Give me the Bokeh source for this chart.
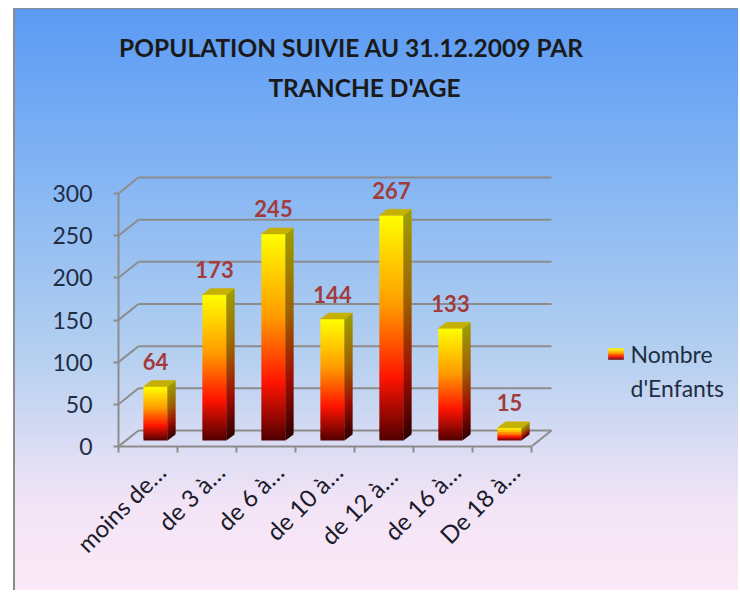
import math
from bokeh.plotting import figure
from bokeh.models import Range1d, FixedTicker, ColumnDataSource
from bokeh.core.properties import value
from bokeh.embed import file_html
from bokeh.resources import INLINE

# ---------------- data ----------------
categories = ["moins de…", "de 3 à…", "de 6 à…", "de 10 à…", "de 12  à…", "de 16 à…", "De 18 à…"]
nombre_enfants = [64, 173, 245, 144, 267, 133, 15]
y_ticks = [0, 50, 100, 150, 200, 250, 300]
series_name = ["Nombre", "d'Enfants"]
title_lines = ["POPULATION SUIVIE AU 31.12.2009 PAR", "TRANCHE D'AGE"]

# ---------------- layout constants (pixels) ----------------
W, H = 725, 582
ORIGIN_X, ORIGIN_Y = 13, 8          # page position of the canvas
AX_X, AX_Y = 118, 446               # page position of data origin (front floor corner)
XS = 59.0                           # px per category
YS = 253.0 / 300.0                  # px per value unit

FRAME_LEFT = AX_X - ORIGIN_X
FRAME_BOTTOM = AX_Y - ORIGIN_Y


def dx(p):
    return p / XS


def dy(p):
    return p / YS


def px(xpage):
    return (xpage - AX_X) / XS


def py(ypage):
    return (AX_Y - ypage) / YS


WALL_DX, WALL_DY = dx(20), dy(16)    # depth of the 3D box
BAR_DX, BAR_DY = dx(7.5), dy(6)      # position of bar front face in depth
BAR_HALF = dx(12)
SIDE_DX, SIDE_DY = dx(8), dy(6)

FONT = value("Lato")
GRID_COLOR = "#8c8c8c"

FRONT_STOPS = [(0.0, (80, 0, 0)), (0.28, (255, 20, 0)), (0.6, (255, 155, 0)), (1.0, (255, 255, 0))]


def grad(t, stops=FRONT_STOPS, k=1.0):
    for (t0, c0), (t1, c1) in zip(stops[:-1], stops[1:]):
        if t <= t1:
            f = (t - t0) / (t1 - t0) if t1 > t0 else 0
            c = [c0[i] + (c1[i] - c0[i]) * f for i in range(3)]
            break
    else:
        c = list(stops[-1][1])
    c = [max(0, min(255, int(round(v * k)))) for v in c]
    return "#%02x%02x%02x" % tuple(c)


n_cat = len(categories)
p = figure(width=W, height=H,
           x_range=Range1d(0, (W - FRAME_LEFT) / XS),
           y_range=Range1d(0, FRAME_BOTTOM / YS),
           output_backend="svg", toolbar_location=None,
           min_border_left=FRAME_LEFT, min_border_right=0,
           min_border_top=0, min_border_bottom=H - FRAME_BOTTOM)

p.background_fill_color = None
p.border_fill_color = None
p.outline_line_color = None
p.xgrid.visible = False
p.ygrid.visible = False
p.styles = {
    "margin-left": "%dpx" % ORIGIN_X,
    "margin-top": "%dpx" % ORIGIN_Y,
    "background": "linear-gradient(to bottom, #5a9af4 0%, #86b6f3 30%, #b5d0f0 60%, #f2e4f6 85%, #fce8f6 100%)",
    "box-shadow": "inset 2px 1px 0 0 #8c8c8c",
}

# ---------------- back wall grid ----------------
gx0, gy0, gx1, gy1 = [], [], [], []
for v in y_ticks:
    gx0 += [0, WALL_DX]
    gy0 += [v, v + WALL_DY]
    gx1 += [WALL_DX, n_cat + WALL_DX]
    gy1 += [v + WALL_DY, v + WALL_DY]
gx0.append(n_cat); gy0.append(0); gx1.append(n_cat + WALL_DX); gy1.append(WALL_DY)
p.segment(x0=gx0, y0=gy0, x1=gx1, y1=gy1, line_color=GRID_COLOR, line_width=2)

# ---------------- 3D bars with gradient ----------------
OVER = dy(1.2)
fl, fr, fb, ft, fc = [], [], [], [], []
sxs, sys, sc = [], [], []
txs, tys = [], []
for i, v in enumerate(nombre_enfants):
    xl = i + 0.5 + BAR_DX - BAR_HALF
    xr = i + 0.5 + BAR_DX + BAR_HALF
    base = BAR_DY
    N = max(4, int(v * YS / 2))
    for k in range(N):
        y0 = base + v * k / N
        y1 = base + v * (k + 1) / N
        y1o = min(y1 + OVER, base + v)
        t = (k + 0.5) / N
        fl.append(xl); fr.append(xr); fb.append(y0); ft.append(y1o); fc.append(grad(t))
        sxs.append([xr, xr + SIDE_DX, xr + SIDE_DX, xr])
        sys.append([y0, y0 + SIDE_DY, y1o + SIDE_DY, y1o])
        sc.append(grad(t, k=0.62))
    top = base + v
    txs.append([xl, xr, xr + SIDE_DX, xl + SIDE_DX])
    tys.append([top, top, top + SIDE_DY, top + SIDE_DY])

p.quad(left=fl, right=fr, bottom=fb, top=ft, fill_color=fc, line_color=None)
p.patches(xs=sxs, ys=sys, fill_color=sc, line_color=None)
p.patches(xs=txs, ys=tys, fill_color="#c6b000", line_color="#c6b000", line_width=0.5)

# value labels
lab = ColumnDataSource(dict(
    x=[i + 0.5 + BAR_DX for i in range(n_cat)],
    y=[BAR_DY + v for v in nombre_enfants],
    t=[str(v) for v in nombre_enfants]))
p.text(x="x", y="y", text="t", source=lab, text_font=FONT, text_font_style="bold",
       text_font_size="22px", text_color="#a23c3c", text_align="center",
       text_baseline="middle", y_offset=-25)

# ---------------- title ----------------
p.text(x=[px(351), px(364)], y=[py(47), py(87)], text=title_lines, text_font=FONT,
       text_font_style="bold", text_font_size="24.5px", text_color="#1a1a1a",
       text_align="center", text_baseline="middle")

# ---------------- legend ----------------
LN = 10
lg_l, lg_r, lg_t, lg_b = px(608), px(623), py(348), py(359)
p.quad(left=[lg_l] * LN, right=[lg_r] * LN,
       bottom=[lg_b + (lg_t - lg_b) * k / LN for k in range(LN)],
       top=[lg_b + (lg_t - lg_b) * (k + 1) / LN for k in range(LN)],
       fill_color=[grad((k + 0.5) / LN) for k in range(LN)],
       line_color=[grad((k + 0.5) / LN) for k in range(LN)], line_width=0.5)
p.text(x=[px(630), px(630)], y=[py(353), py(387)], text=series_name, text_font=FONT,
       text_font_size="23px", text_color="#1f2d45", text_align="left", text_baseline="middle")

# ---------------- axes ----------------
yax = p.yaxis[0]
yax.ticker = FixedTicker(ticks=y_ticks)
yax.bounds = (0, 300)
yax.axis_line_color = GRID_COLOR
yax.axis_line_width = 2
yax.major_tick_line_color = GRID_COLOR
yax.major_tick_line_width = 2
yax.major_tick_out = 5
yax.major_tick_in = 0
yax.minor_tick_line_color = None
yax.major_label_text_font = "Lato"
yax.major_label_text_font_size = "23px"
yax.major_label_text_color = "#1f2d45"
yax.major_label_standoff = 21

label_ticks = [i + 0.5 + dx(13) for i in range(n_cat)]
xax = p.xaxis[0]
xax.ticker = FixedTicker(ticks=label_ticks, minor_ticks=list(range(n_cat + 1)))
xax.major_label_overrides = {t: c for t, c in zip(label_ticks, categories)}
xax.bounds = (0, n_cat)
xax.axis_line_color = GRID_COLOR
xax.axis_line_width = 2
xax.major_tick_line_color = None
xax.minor_tick_line_color = GRID_COLOR
xax.minor_tick_line_width = 2
xax.minor_tick_out = 6
xax.minor_tick_in = 0
xax.major_label_orientation = math.pi / 4
xax.major_label_text_font = "Lato"
xax.major_label_text_font_size = "24px"
xax.major_label_text_color = "#1a1a2a"
xax.major_label_standoff = 15

open("out.html", "w").write(file_html(p, INLINE))
